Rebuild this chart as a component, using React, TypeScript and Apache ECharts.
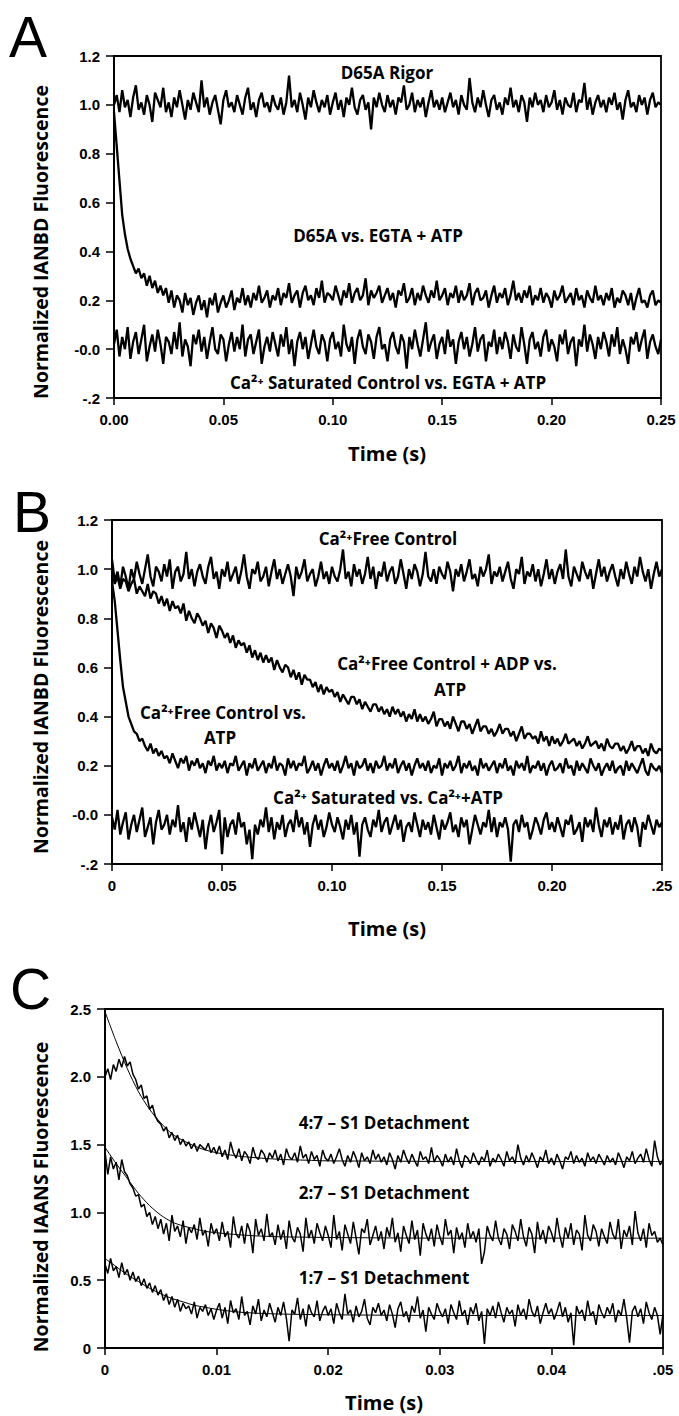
import React, { useEffect, useRef } from "react";
import * as echarts from "echarts";

// ---------- tick labels ----------
const A_X_TICKS = ["0.00", "0.05", "0.10", "0.15", "0.20", "0.25"];
const B_X_TICKS = ["0", "0.05", "0.10", "0.15", "0.20", ".25"];
const AB_Y_TICKS = ["-.2", "-0.0", "0.2", "0.4", "0.6", "0.8", "1.0", "1.2"];
const C_X_TICKS = ["0", "0.01", "0.02", "0.03", "0.04", ".05"];
const C_Y_TICKS = ["0", "0.5", "1.0", "1.5", "2.0", "2.5"];

// sampling interval of the traces (s)
const AB_DT = 0.00125;
const C_DT = 0.00025;

// ---------- Panel A traces (values x100) ----------
const A_RIGOR = [
  100,104,97,106,99,102,95,103,108,98,101,96,104,100,93,105,102,99,107,97,
  101,95,103,99,106,100,94,102,98,105,101,97,110,99,103,96,101,104,98,92,
  102,106,99,101,97,104,100,96,103,107,98,101,95,102,105,99,101,97,104,100,
  98,103,96,101,112,99,102,97,105,100,94,103,99,106,101,97,102,99,104,96,
  101,105,98,102,95,103,100,107,99,96,102,104,98,101,90,103,99,105,100,97,
  104,99,102,96,103,101,108,98,100,105,97,102,99,103,95,101,106,99,102,98,
  103,97,101,105,99,102,96,104,100,98,111,101,97,103,99,106,100,95,102,104,
  98,101,96,103,100,107,99,102,97,104,101,93,103,99,105,100,102,97,104,99,
  101,106,98,102,96,103,100,99,105,97,102,101,109,98,103,96,101,104,99,102,
  97,103,100,105,98,101,94,102,106,99,101,97,104,100,103,96,102,105,99,101,
  100,
];
const A_D65A_EGTA = [
  97,83,69,55,47,41,37,34,31,33,29,31,26,30,25,28,23,26,22,25,
  19,24,17,22,20,15,23,18,21,14,19,22,16,20,13,21,18,23,15,19,
  22,17,20,24,16,21,19,25,18,22,17,23,20,26,19,21,24,17,22,20,
  25,18,23,21,27,19,22,24,17,23,26,20,22,18,25,21,28,19,23,22,
  20,26,22,18,24,21,27,19,23,25,20,22,29,18,24,21,23,26,19,22,
  25,20,23,17,24,22,27,19,21,25,18,23,20,26,22,19,24,21,28,20,
  22,25,18,23,21,26,19,24,20,22,27,18,23,25,20,21,24,17,22,26,
  19,23,21,25,18,22,28,20,23,19,24,21,26,18,22,20,25,19,23,21,
  17,24,20,22,26,19,21,23,18,25,20,22,17,24,21,19,26,20,22,18,
  23,20,25,17,21,19,24,22,18,23,16,21,25,19,20,17,22,24,18,20,
  19,
];
const A_SAT_CONTROL = [
  2,8,-3,5,0,9,-4,3,7,-2,4,10,-5,1,6,-1,8,2,-6,5,
  3,-2,7,0,11,-3,4,1,-7,6,2,8,-1,5,-4,3,9,0,-2,6,
  4,-5,2,7,-1,5,0,10,-3,4,6,-2,3,8,-6,1,5,-1,7,2,
  -3,6,1,9,-2,4,-7,3,7,0,5,-4,2,8,1,-2,6,3,-5,4,
  7,0,3,-3,10,2,-1,5,-6,4,8,1,-2,6,3,-4,5,9,0,2,
  -5,4,7,1,-2,6,3,-8,5,0,8,2,-3,4,11,-1,3,6,-4,2,
  5,-2,8,1,4,-6,3,7,0,5,-3,2,9,-1,4,6,-5,3,1,8,
  -2,5,0,7,3,-4,6,1,-1,9,2,-6,4,7,0,3,-3,5,8,-1,
  4,1,-5,6,2,8,-2,3,5,-7,4,1,10,-1,6,2,-4,5,0,7,
  3,-3,6,1,9,-2,4,0,-6,5,2,7,-1,4,8,-4,3,6,1,-2,
  4,
];

// ---------- Panel B traces (values x100) ----------
const B_FREE_CONTROL = [
  104,95,99,93,101,97,92,100,96,103,98,94,100,106,97,93,101,99,95,102,
  97,104,92,99,101,95,98,107,96,100,93,99,102,97,94,101,105,96,99,92,
  100,97,103,95,98,101,94,99,106,97,92,100,98,103,95,97,101,93,99,104,
  96,100,94,98,102,97,89,101,96,99,104,95,98,100,93,97,103,96,99,94,
  101,97,95,100,108,96,99,93,102,97,100,94,98,105,96,101,92,99,97,103,
  95,99,101,94,97,104,98,92,100,96,102,99,93,98,107,97,95,100,94,101,
  98,96,103,99,91,100,97,102,95,99,104,96,98,93,101,97,100,106,94,99,
  97,101,95,99,103,96,92,100,98,105,94,99,97,102,95,100,93,98,104,96,
  100,94,99,102,96,108,97,93,101,98,95,103,99,96,100,92,98,104,97,101,
  95,99,102,97,93,100,96,103,98,94,101,97,105,99,95,100,92,98,103,97,
  100,
];
const B_ADP_VS_ATP = [
  99,94,97,92,96,95,91,94, 96,90,93,91,89,94,88,91,
  90,86,89,85,88,83,87,84, 85,82,86,79,83,80,78,82,
  80,77,79,74,78,76,72,77, 75,72,74,70,73,68,71,69,
  70,66,69,64,67,63,66,62, 65,62,64,59,63,60,58,61,
  60,56,59,55,58,53,57,55, 55,52,54,50,53,49,52,50,
  51,48,50,46,49,47,45,48, 48,45,47,43,46,44,42,45,
  45,42,44,41,43,40,44,41, 43,40,42,38,41,39,43,38,
  41,38,40,37,39,42,36,39, 39,36,38,35,40,37,34,38,
  38,35,37,33,36,39,34,36, 36,33,35,32,34,37,33,35,
  35,32,34,30,33,36,31,33, 33,31,32,29,34,30,32,28,
  32,29,31,28,30,33,29,30, 31,28,30,27,29,32,28,29,
  30,27,29,26,31,28,27,29, 29,26,28,25,27,30,26,28,
  28,25,27,24,29,26,25,27,
  26,
];
const B_FREE_VS_ATP = [
  95,87,75,63,52,46,40,37,34,33,30,31,28,26,29,25,27,24,26,23,
  24,21,25,22,19,23,21,24,18,22,20,23,19,21,17,22,20,24,18,21,
  19,22,17,21,20,24,18,20,22,16,21,19,23,18,20,22,17,21,19,24,
  18,21,20,16,23,19,22,18,21,20,24,17,19,22,18,21,16,20,23,19,
  21,18,22,17,20,24,19,21,16,22,19,20,23,18,21,17,22,19,20,24,
  18,21,19,23,17,20,22,18,21,16,20,23,19,21,18,22,17,20,19,23,
  16,21,19,22,18,20,24,17,21,19,22,18,20,16,23,19,21,18,20,22,
  17,21,19,23,18,20,16,22,19,21,18,24,17,20,19,22,18,21,16,20,
  22,18,19,21,17,23,19,20,16,22,18,21,19,17,23,20,18,21,16,19,
  21,18,22,17,19,20,16,22,18,21,19,17,20,23,18,16,21,19,18,20,
  17,
];
const B_SAT_VS_CA_ATP = [
  -1,-6,2,-8,-3,1,-10,-4,0,-7,-2,3,-9,-5,-1,-12,-3,2,-6,-4,
  0,-8,-2,-5,4,-7,-3,-11,-1,-6,1,-4,-9,-2,-14,-5,0,-7,-3,2,
  -16,-1,-9,-4,-2,-8,1,-5,-3,-12,-6,-18,-4,-8,-2,-5,3,-7,-1,-10,
  -3,-6,0,-9,-4,-2,-7,2,-5,-1,-8,-3,-13,-4,0,-6,-2,-9,-5,1,
  -4,-7,-1,-5,-10,-2,-6,0,-8,-3,-17,-4,-1,-6,-9,-2,-5,2,-7,-3,
  -1,-8,-4,0,-6,-2,-11,-5,-3,-7,1,-4,-9,-2,-6,-3,-8,0,-5,-10,
  -2,-6,-3,1,-7,-4,-9,-1,-5,-2,-12,-6,0,-4,-8,-3,-5,2,-7,-1,
  -9,-3,-5,-1,-6,-19,-4,-2,-7,0,-5,-3,-10,-6,-1,-4,-8,-2,1,-6,
  -3,-7,-1,-5,-9,-2,-4,0,-8,-6,-3,-11,-1,-5,-2,-7,3,-4,-9,-2,
  -5,-1,-8,-3,-6,0,-10,-4,-2,-7,-1,-5,-13,-3,-6,0,-4,-8,-2,-5,
  -3,
];

// ---------- Panel C traces (values x100) ----------
const C_47 = [
  200,206,198,209,204,213,207,215,208,211,202,198,191,194,184,186,176,179,171,167,
  165,160,163,155,159,153,157,150,154,149,152,147,151,145,150,148,146,151,144,148,
  143,149,141,146,139,152,144,140,147,138,145,142,136,148,141,139,146,143,137,144,
  140,146,138,143,135,147,141,139,144,137,149,140,143,136,145,139,142,134,146,140,
  138,143,136,141,147,139,134,142,137,145,140,133,144,138,141,136,146,139,143,137,
  141,135,144,139,132,142,137,146,140,136,143,138,134,145,139,141,136,148,137,142,
  139,134,143,137,141,135,147,138,133,142,140,136,144,139,135,141,138,146,134,140,
  137,143,139,134,145,138,141,136,150,140,135,142,137,144,139,133,141,138,146,136,
  140,135,143,138,132,141,139,145,136,142,137,140,134,144,138,141,136,143,139,135,
  142,137,140,135,144,139,133,141,138,145,136,140,143,137,147,139,134,153,141,135,
  139,
];
const C_27 = [
  145,128,141,132,137,124,139,130,127,121,118,112,113,104,106,97,100,91,97,88,
  95,84,92,79,98,86,90,82,94,77,89,85,91,80,96,83,87,75,92,84,
  88,79,93,82,86,74,97,84,81,90,77,92,86,70,95,83,88,79,99,82,
  85,76,91,80,87,73,94,82,78,89,84,71,96,81,87,77,92,85,79,90,
  83,74,98,80,86,72,91,84,77,93,81,69,88,85,95,76,83,90,79,86,
  73,89,82,96,78,85,71,90,83,77,94,80,87,68,92,84,79,88,75,91,
  82,76,95,83,87,70,89,80,85,74,92,81,86,78,88,62,71,90,83,79,
  94,81,76,88,84,73,91,86,79,95,82,75,89,84,70,93,80,87,77,90,
  85,78,96,83,74,89,81,92,76,87,84,72,98,83,79,91,86,75,88,82,
  77,93,84,80,95,73,87,82,90,76,101,85,79,88,74,92,83,86,78,81,
  76,
];
const C_17 = [
  62,55,66,57,60,52,63,54,58,50,56,49,53,46,51,44,48,41,46,39,
  43,35,40,32,38,30,36,27,33,29,31,25,34,22,30,27,32,24,29,21,
  28,33,22,30,18,35,26,29,21,38,24,27,17,31,25,36,20,28,23,33,
  26,19,30,24,34,22,5,28,25,37,21,29,16,32,26,23,35,20,27,31,
  24,29,18,33,26,21,40,25,28,19,31,23,27,36,22,17,30,26,33,24,
  28,20,32,25,15,29,34,23,27,19,31,26,38,22,28,12,30,25,21,33,
  27,23,29,18,32,26,21,35,24,28,17,30,25,33,20,27,3,29,24,31,
  22,34,26,19,30,25,28,16,32,24,29,21,36,27,23,31,18,26,33,25,
  29,21,27,34,23,30,19,26,2,31,25,28,20,35,24,27,17,32,26,22,
  30,25,33,19,28,24,36,22,4,27,31,23,29,18,34,26,21,30,24,10,
  25,
];

// fitted curves in panel C (time s, value)
const FIT_T = [0, 0.001, 0.002, 0.003, 0.004, 0.005, 0.006, 0.007, 0.008, 0.009, 0.01, 0.012, 0.014, 0.016, 0.018, 0.02, 0.025, 0.03, 0.04, 0.05];
const FIT_47 = [2.48, 2.26, 2.06, 1.89, 1.76, 1.66, 1.58, 1.53, 1.49, 1.46, 1.44, 1.415, 1.4, 1.39, 1.385, 1.38, 1.378, 1.376, 1.375, 1.375];
const FIT_27 = [1.48, 1.36, 1.25, 1.14, 1.05, 0.98, 0.93, 0.9, 0.88, 0.86, 0.85, 0.835, 0.825, 0.82, 0.817, 0.815, 0.812, 0.81, 0.81, 0.81];
const FIT_17 = [0.66, 0.6, 0.54, 0.49, 0.44, 0.4, 0.365, 0.34, 0.315, 0.3, 0.285, 0.265, 0.255, 0.25, 0.247, 0.245, 0.242, 0.24, 0.24, 0.24];

const TICK_FONT = "Liberation Sans";
const TEXT_FONT = "Open Sans";

function trace(vals: number[], dt: number) {
  return vals.map((v, i) => [i * dt, v / 100]);
}
function fit(ts: number[], vs: number[]) {
  return ts.map((t, i) => [t, vs[i]]);
}

function xAxis(gi: number, max: number, interval: number, labels: string[]) {
  return {
    type: "value",
    gridIndex: gi,
    min: 0,
    max,
    interval,
    axisLine: { show: true, onZero: false, lineStyle: { color: "#000", width: 2 } },
    axisTick: { show: true, length: 7, lineStyle: { color: "#000", width: 1.5 } },
    axisLabel: {
      color: "#000",
      fontFamily: TICK_FONT,
      fontWeight: "bold",
      fontSize: 15,
      margin: 14,
      formatter: (v: number) => labels[Math.round(v / interval)] ?? "",
    },
    splitLine: { show: false },
  };
}
function yAxis(gi: number, min: number, max: number, interval: number, labels: string[]) {
  return {
    type: "value",
    gridIndex: gi,
    min,
    max,
    interval,
    axisLine: { show: true, onZero: false, lineStyle: { color: "#000", width: 2 } },
    axisTick: { show: true, length: 8, lineStyle: { color: "#000", width: 1.5 } },
    axisLabel: {
      color: "#000",
      fontFamily: TICK_FONT,
      fontWeight: "bold",
      fontSize: 15,
      margin: 14,
      formatter: (v: number) => labels[Math.round((v - min) / interval)] ?? "",
    },
    splitLine: { show: false },
  };
}

function lineSeries(data: number[][], gi: number, width = 2.3) {
  return {
    type: "line",
    xAxisIndex: gi,
    yAxisIndex: gi,
    data,
    showSymbol: false,
    symbol: "none",
    silent: true,
    lineStyle: { color: "#000", width },
  };
}

function label(text: string, x: number, y: number, size = 17) {
  return {
    type: "text",
    x,
    y,
    silent: true,
    z: 100,
    style: {
      text,
      fill: "#000",
      fontFamily: TEXT_FONT,
      fontWeight: "bold",
      fontSize: size,
      align: "center",
      verticalAlign: "middle",
    },
  };
}
function vlabel(text: string, x: number, y: number) {
  return {
    type: "text",
    x,
    y,
    rotation: Math.PI / 2,
    silent: true,
    style: {
      text,
      fill: "#000",
      fontFamily: TEXT_FONT,
      fontWeight: "bold",
      fontSize: 19.5,
      align: "center",
      verticalAlign: "middle",
    },
  };
}
function letter(text: string, x: number, y: number) {
  return {
    type: "text",
    x,
    y,
    silent: true,
    style: {
      text,
      fill: "#000",
      fontFamily: "Liberation Sans",
      fontWeight: "normal",
      fontSize: 57,
      align: "left",
      verticalAlign: "middle",
    },
  };
}

export default function App() {
  const ref = useRef<HTMLDivElement>(null);
  useEffect(() => {
    document.body.style.margin = "0";
    if (!ref.current) return;
    const chart = echarts.init(ref.current, undefined, { renderer: "svg" });
    const gridBase = { show: true, borderColor: "#000", borderWidth: 1.8, backgroundColor: "transparent" };
    chart.setOption({
      animation: false,
      backgroundColor: "#fff",
      grid: [
        { ...gridBase, left: 114, top: 56, width: 547, height: 342 },
        { ...gridBase, left: 112, top: 520, width: 550, height: 344 },
        { ...gridBase, left: 105, top: 1009, width: 558, height: 339 },
      ],
      xAxis: [
        xAxis(0, 0.25, 0.05, A_X_TICKS),
        xAxis(1, 0.25, 0.05, B_X_TICKS),
        xAxis(2, 0.05, 0.01, C_X_TICKS),
      ],
      yAxis: [
        yAxis(0, -0.2, 1.2, 0.2, AB_Y_TICKS),
        yAxis(1, -0.2, 1.2, 0.2, AB_Y_TICKS),
        yAxis(2, 0, 2.5, 0.5, C_Y_TICKS),
      ],
      series: [
        lineSeries(trace(A_RIGOR, AB_DT), 0),
        lineSeries(trace(A_D65A_EGTA, AB_DT), 0),
        lineSeries(trace(A_SAT_CONTROL, AB_DT), 0),
        lineSeries(trace(B_FREE_CONTROL, AB_DT), 1),
        lineSeries(trace(B_ADP_VS_ATP, AB_DT), 1),
        lineSeries(trace(B_FREE_VS_ATP, AB_DT), 1),
        lineSeries(trace(B_SAT_VS_CA_ATP, AB_DT), 1),
        lineSeries(trace(C_47, C_DT), 2, 1.5),
        lineSeries(trace(C_27, C_DT), 2, 1.5),
        lineSeries(trace(C_17, C_DT), 2, 1.5),
        { ...lineSeries(fit(FIT_T, FIT_47), 2, 1), smooth: 0.3 },
        { ...lineSeries(fit(FIT_T, FIT_27), 2, 1), smooth: 0.3 },
        { ...lineSeries(fit(FIT_T, FIT_17), 2, 1), smooth: 0.3 },
      ],
      graphic: [
        letter("A", 9, 37),
        letter("B", 13, 512),
        letter("C", 10, 989),
        // Panel A
        label("D65A Rigor", 387, 72),
        label("D65A vs. EGTA + ATP", 378, 235),
        label("Ca²⁺ Saturated Control vs. EGTA + ATP", 388, 382),
        vlabel("Normalized IANBD Fluorescence", 40, 242),
        label("Time (s)", 387, 453, 20),
        // Panel B
        label("Ca²⁺Free Control", 388, 538),
        label("Ca²⁺Free Control + ADP vs.", 447, 663),
        label("ATP", 450, 689),
        label("Ca²⁺Free Control vs.", 223, 712),
        label("ATP", 220, 737),
        label("Ca²⁺ Saturated vs. Ca²⁺+ATP", 388, 797),
        vlabel("Normalized IANBD Fluorescence", 40, 697),
        label("Time (s)", 387, 928, 20),
        // Panel C
        label("4:7 – S1 Detachment", 384, 1122),
        label("2:7 – S1 Detachment", 384, 1192),
        label("1:7 – S1 Detachment", 384, 1277),
        vlabel("Normalized IAANS Fluorescence", 40, 1197),
        label("Time (s)", 384, 1402, 20),
      ],
    });
    return () => chart.dispose();
  }, []);
  return <div ref={ref} style={{ width: 679, height: 1416 }} />;
}
